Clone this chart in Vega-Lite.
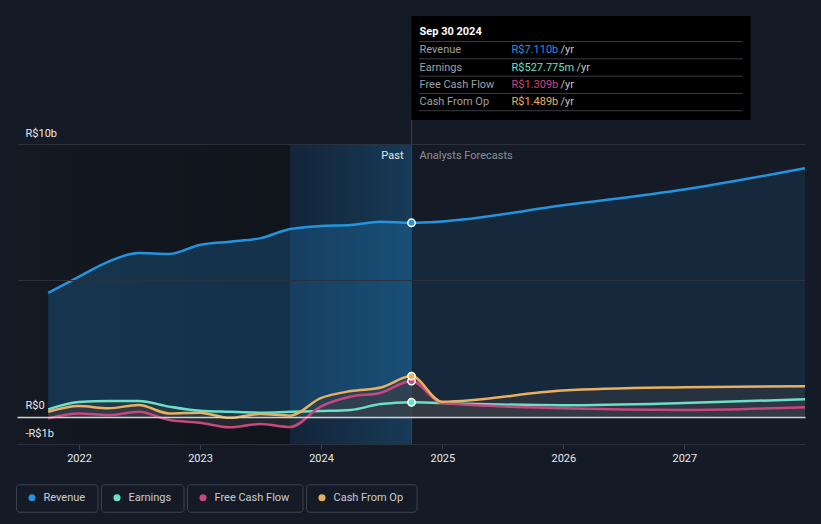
{
  "$schema": "https://vega.github.io/schema/vega-lite/v6.json",
  "width": 788,
  "height": 300,
  "autosize": {"type": "none"},
  "padding": {"left": 17, "top": 144, "right": 16, "bottom": 80},
  "background": "#151b26",
  "config": {
    "view": {"stroke": null},
    "font": "Roboto",
    "text": {"font": "Roboto"},
    "axisX": {"grid": false, "domainColor": "#3a404c", "tickColor": "#3a404c", "tickSize": 5, "labelColor": "#e8e8e8", "labelFontSize": 11, "labelFont": "Roboto", "labelPadding": 3, "labelFlush": false},
    "axisY": {"grid": true, "domain": false, "ticks": false, "labelAlign": "left", "labelPadding": -8, "labelBaseline": "alphabetic", "labelOffset": -8, "labelColor": "#e8e8e8", "labelFontSize": 11, "labelFont": "Roboto", "labelOverlap": false},
    "legend": {
      "orient": "none",
      "legendX": -1,
      "legendY": 340,
      "direction": "horizontal",
      "padding": 0,
      "columnPadding": 2,
      "symbolType": "circle",
      "symbolSize": 50,
      "symbolOffset": 10.5,
      "labelOffset": 6,
      "labelFont": "Roboto",
      "labelFontSize": 11,
      "labelColor": "#c9cdd3",
      "labelLimit": 200
    }
  },
  "datasets": {
    "series": [
      {"date": "2021-09-30", "series": "Revenue", "value": 4.54},
      {"date": "2021-12-31", "series": "Revenue", "value": 5.13},
      {"date": "2022-03-31", "series": "Revenue", "value": 5.69},
      {"date": "2022-06-30", "series": "Revenue", "value": 6.0},
      {"date": "2022-09-30", "series": "Revenue", "value": 5.97},
      {"date": "2022-12-31", "series": "Revenue", "value": 6.3},
      {"date": "2023-03-31", "series": "Revenue", "value": 6.42},
      {"date": "2023-06-30", "series": "Revenue", "value": 6.54},
      {"date": "2023-09-30", "series": "Revenue", "value": 6.88},
      {"date": "2023-12-31", "series": "Revenue", "value": 6.99},
      {"date": "2024-03-31", "series": "Revenue", "value": 7.03},
      {"date": "2024-06-30", "series": "Revenue", "value": 7.15},
      {"date": "2024-09-30", "series": "Revenue", "value": 7.11},
      {"date": "2024-12-31", "series": "Revenue", "value": 7.16},
      {"date": "2025-12-31", "series": "Revenue", "value": 7.75},
      {"date": "2026-12-31", "series": "Revenue", "value": 8.33},
      {"date": "2027-12-31", "series": "Revenue", "value": 9.11},
      {"date": "2021-09-30", "series": "Earnings", "value": 0.27},
      {"date": "2021-12-31", "series": "Earnings", "value": 0.54},
      {"date": "2022-03-31", "series": "Earnings", "value": 0.58},
      {"date": "2022-06-30", "series": "Earnings", "value": 0.58},
      {"date": "2022-09-30", "series": "Earnings", "value": 0.37},
      {"date": "2022-12-31", "series": "Earnings", "value": 0.22},
      {"date": "2023-03-31", "series": "Earnings", "value": 0.18},
      {"date": "2023-06-30", "series": "Earnings", "value": 0.15},
      {"date": "2023-09-30", "series": "Earnings", "value": 0.18},
      {"date": "2023-12-31", "series": "Earnings", "value": 0.21},
      {"date": "2024-03-31", "series": "Earnings", "value": 0.25},
      {"date": "2024-06-30", "series": "Earnings", "value": 0.47},
      {"date": "2024-09-30", "series": "Earnings", "value": 0.528},
      {"date": "2024-12-31", "series": "Earnings", "value": 0.5},
      {"date": "2025-12-31", "series": "Earnings", "value": 0.42},
      {"date": "2026-12-31", "series": "Earnings", "value": 0.5},
      {"date": "2027-12-31", "series": "Earnings", "value": 0.64},
      {"date": "2021-09-30", "series": "Free Cash Flow", "value": -0.06},
      {"date": "2021-12-31", "series": "Free Cash Flow", "value": 0.12},
      {"date": "2022-03-31", "series": "Free Cash Flow", "value": 0.06},
      {"date": "2022-06-30", "series": "Free Cash Flow", "value": 0.18},
      {"date": "2022-09-30", "series": "Free Cash Flow", "value": -0.12},
      {"date": "2022-12-31", "series": "Free Cash Flow", "value": -0.22},
      {"date": "2023-03-31", "series": "Free Cash Flow", "value": -0.39},
      {"date": "2023-06-30", "series": "Free Cash Flow", "value": -0.27},
      {"date": "2023-09-30", "series": "Free Cash Flow", "value": -0.38},
      {"date": "2023-12-31", "series": "Free Cash Flow", "value": 0.37},
      {"date": "2024-03-31", "series": "Free Cash Flow", "value": 0.74},
      {"date": "2024-06-30", "series": "Free Cash Flow", "value": 0.88},
      {"date": "2024-09-30", "series": "Free Cash Flow", "value": 1.309},
      {"date": "2024-12-31", "series": "Free Cash Flow", "value": 0.5},
      {"date": "2025-12-31", "series": "Free Cash Flow", "value": 0.31},
      {"date": "2026-12-31", "series": "Free Cash Flow", "value": 0.25},
      {"date": "2027-12-31", "series": "Free Cash Flow", "value": 0.35},
      {"date": "2021-09-30", "series": "Cash From Op", "value": 0.18},
      {"date": "2021-12-31", "series": "Cash From Op", "value": 0.39},
      {"date": "2022-03-31", "series": "Cash From Op", "value": 0.31},
      {"date": "2022-06-30", "series": "Cash From Op", "value": 0.43},
      {"date": "2022-09-30", "series": "Cash From Op", "value": 0.12},
      {"date": "2022-12-31", "series": "Cash From Op", "value": 0.15},
      {"date": "2023-03-31", "series": "Cash From Op", "value": -0.04},
      {"date": "2023-06-30", "series": "Cash From Op", "value": 0.1},
      {"date": "2023-09-30", "series": "Cash From Op", "value": 0.04},
      {"date": "2023-12-31", "series": "Cash From Op", "value": 0.68},
      {"date": "2024-03-31", "series": "Cash From Op", "value": 0.94},
      {"date": "2024-06-30", "series": "Cash From Op", "value": 1.07},
      {"date": "2024-09-30", "series": "Cash From Op", "value": 1.489},
      {"date": "2024-12-31", "series": "Cash From Op", "value": 0.55},
      {"date": "2025-12-31", "series": "Cash From Op", "value": 0.96},
      {"date": "2026-12-31", "series": "Cash From Op", "value": 1.08},
      {"date": "2027-12-31", "series": "Cash From Op", "value": 1.12}
    ],
    "regions": [
      {"start": "2021-06-28", "end": "2023-09-30", "name": "past"},
      {"start": "2023-09-30", "end": "2024-09-30", "name": "last12m"}
    ],
    "phases": [
      {"date": "2024-09-30", "label": "Past"},
      {"date": "2024-09-30", "label": "Analysts Forecasts"}
    ],
    "tip": [
      {"date": "2024-09-30", "row": "head", "label": "Sep 30 2024", "series": null, "value": "", "unit": ""},
      {"date": "2024-09-30", "row": "Revenue", "label": "Revenue", "series": "Revenue", "value": "R$7.110b", "unit": "/yr"},
      {"date": "2024-09-30", "row": "Earnings", "label": "Earnings", "series": "Earnings", "value": "R$527.775m", "unit": "/yr"},
      {"date": "2024-09-30", "row": "Free Cash Flow", "label": "Free Cash Flow", "series": "Free Cash Flow", "value": "R$1.309b", "unit": "/yr"},
      {"date": "2024-09-30", "row": "Cash From Op", "label": "Cash From Op", "series": "Cash From Op", "value": "R$1.489b", "unit": "/yr"}
    ]
  },
  "layer": [
    {
      "layer": [
        {
          "data": {"name": "regions"},
          "transform": [{"filter": "datum.name == 'past'"}],
          "mark": {"type": "rect", "fill": {"gradient": "linear", "x1": 0, "x2": 1, "y1": 0, "y2": 0, "stops": [{"offset": 0, "color": "#141922"}, {"offset": 1, "color": "#10141b"}]}},
          "encoding": {
            "x": {"field": "start", "type": "temporal", "title": null,
              "scale": {"domain": [{"year": 2021, "month": 6, "date": 28}, {"year": 2027, "month": 12, "date": 31}]},
              "axis": {"format": "%Y", "tickCount": {"interval": "year", "step": 1}}},
            "x2": {"field": "end"}
          }
        },
        {
          "data": {"name": "regions"},
          "transform": [{"filter": "datum.name == 'last12m'"}],
          "mark": {"type": "rect", "fill": {"gradient": "linear", "x1": 0, "x2": 1, "y1": 0, "y2": 0, "stops": [{"offset": 0, "color": "#132539"}, {"offset": 1, "color": "#173a57"}]}},
          "encoding": {
            "x": {"field": "start", "type": "temporal", "title": null},
            "x2": {"field": "end"}
          }
        },
        {
          "data": {"name": "series"},
          "transform": [{"filter": "datum.series == 'Revenue'"}, {"filter": {"field": "date", "lte": {"year": 2024, "month": 10, "date": 1}}}],
          "mark": {"type": "area", "interpolate": "monotone", "color": "#2394df", "opacity": 0.24},
          "encoding": {
            "x": {"field": "date", "type": "temporal", "title": null},
            "y": {"field": "value", "type": "quantitative", "stack": null, "title": null,
              "scale": {"domain": [-1, 10], "nice": false, "zero": false},
              "axis": {"values": [-1, 0, 5, 10], "zindex": 1,
                "gridColor": {"condition": {"test": "datum.value == 0", "value": "#cfd2d6"}, "value": "#2a303c"},
                "gridWidth": {"condition": {"test": "datum.value == 0", "value": 1.5}, "value": 1},
                "labelExpr": "datum.value == 5 ? '' : datum.value == 0 ? 'R$0' : datum.value < 0 ? '-R$' + abs(datum.value) + 'b' : 'R$' + datum.value + 'b'"}}
          }
        },
        {
          "data": {"name": "series"},
          "transform": [{"filter": "datum.series == 'Revenue'"}, {"filter": {"field": "date", "gte": {"year": 2024, "month": 9, "date": 29}}}],
          "mark": {"type": "area", "interpolate": "monotone", "color": "#2394df", "opacity": 0.12},
          "encoding": {
            "x": {"field": "date", "type": "temporal", "title": null},
            "y": {"field": "value", "type": "quantitative", "stack": null, "title": null, "scale": {"domain": [-1, 10], "nice": false, "zero": false}}
          }
        },
        {
          "data": {"name": "series"},
          "transform": [{"filter": "datum.series != 'Revenue'"}],
          "mark": {"type": "area", "interpolate": "monotone", "color": "#3a3e45", "opacity": 0.45},
          "encoding": {
            "x": {"field": "date", "type": "temporal", "title": null},
            "y": {"field": "value", "type": "quantitative", "stack": null, "title": null, "scale": {"domain": [-1, 10], "nice": false, "zero": false}},
            "detail": {"field": "series"}
          }
        },
        {
          "data": {"values": [{"label": "now"}]},
          "mark": {"type": "rule", "color": "#2c4762", "strokeWidth": 1, "clip": false},
          "encoding": {
            "x": {"datum": {"year": 2024, "month": 9, "date": 30}, "type": "temporal", "title": null},
            "y": {"datum": -1, "type": "quantitative", "title": null, "scale": {"domain": [-1, 10], "nice": false, "zero": false}},
            "y2": {"datum": 10.92}
          }
        },
        {
          "data": {"name": "series"},
          "mark": {"type": "line", "interpolate": "monotone", "strokeWidth": 2.5},
          "encoding": {
            "x": {"field": "date", "type": "temporal", "title": null},
            "y": {"field": "value", "type": "quantitative", "title": null, "scale": {"domain": [-1, 10], "nice": false, "zero": false}},
            "color": {"field": "series", "type": "nominal",
              "scale": {"domain": ["Revenue", "Earnings", "Free Cash Flow", "Cash From Op"], "range": ["#2394df", "#6be0c8", "#c9467f", "#e9b05f"]},
              "legend": {"title": null,
                "encode": {
                  "symbols": {"update": {"fill": {"scale": "color", "field": "value"}, "strokeWidth": {"value": 0}, "y": {"value": 13.5}}},
                  "labels": {"update": {"y": {"value": 13.5}, "baseline": {"value": "middle"}}},
                  "entries": {"update": {"width": {"signal": "[81, 82, 115, 110][datum.index]"}, "height": {"value": 27}, "noBound": {"value": false}, "stroke": {"value": "#3c4350"}, "strokeWidth": {"value": 1}, "fill": {"value": "#151b26"}, "cornerRadius": {"value": 3}}}
                }}}
          }
        },
        {
          "data": {"name": "series"},
          "transform": [{"filter": {"field": "date", "gte": {"year": 2024, "month": 9, "date": 29}}}, {"filter": {"field": "date", "lte": {"year": 2024, "month": 10, "date": 1}}}],
          "mark": {"type": "point", "shape": "circle", "filled": true, "size": 55, "stroke": "#ffffff", "strokeWidth": 1.5, "opacity": 1},
          "encoding": {
            "x": {"field": "date", "type": "temporal", "title": null},
            "y": {"field": "value", "type": "quantitative", "title": null, "scale": {"domain": [-1, 10], "nice": false, "zero": false}},
            "color": {"field": "series", "type": "nominal", "legend": null}
          }
        },
        {
          "data": {"name": "phases"},
          "transform": [{"filter": "datum.label == 'Past'"}],
          "mark": {"type": "text", "align": "right", "baseline": "middle", "dx": -8, "dy": 12, "fontSize": 11, "color": "#e6e6e6"},
          "encoding": {
            "x": {"field": "date", "type": "temporal", "title": null},
            "y": {"datum": 10, "type": "quantitative", "title": null, "scale": {"domain": [-1, 10], "nice": false, "zero": false}},
            "text": {"field": "label"}
          }
        },
        {
          "data": {"name": "phases"},
          "transform": [{"filter": "datum.label != 'Past'"}],
          "mark": {"type": "text", "align": "left", "baseline": "middle", "dx": 8, "dy": 12, "fontSize": 11, "color": "#8a9099"},
          "encoding": {
            "x": {"field": "date", "type": "temporal", "title": null},
            "y": {"datum": 10, "type": "quantitative", "title": null, "scale": {"domain": [-1, 10], "nice": false, "zero": false}},
            "text": {"field": "label"}
          }
        }
      ]
    },
    {
      "data": {"values": [{"box": "tooltip"}]},
      "mark": {"type": "rect", "color": "#000000", "clip": false},
      "encoding": {
        "x": {"datum": {"year": 2024, "month": 9, "date": 30}, "type": "temporal", "title": null},
        "x2": {"datum": {"year": 2027, "month": 7, "date": 20}},
        "y": {"field": "box", "type": "nominal", "axis": null, "scale": {"type": "band", "range": [-128, -24], "paddingInner": 0, "paddingOuter": 0}}
      }
    },
    {
      "data": {"name": "tip"},
      "layer": [
        {
          "mark": {"type": "rule", "color": "#3a3d42", "strokeWidth": 1, "clip": false},
          "encoding": {
            "x": {"datum": {"year": 2024, "month": 10, "date": 23}, "type": "temporal", "title": null},
            "x2": {"datum": {"year": 2027, "month": 6, "date": 26}},
            "y": {"field": "row", "type": "nominal", "bandPosition": 1, "axis": null,
              "scale": {"type": "band", "domain": ["head", "Revenue", "Earnings", "Free Cash Flow", "Cash From Op"], "range": [-128, -25], "paddingInner": 0, "paddingOuter": 0.48}}
          }
        },
        {
          "transform": [{"filter": "datum.row == 'head'"}],
          "mark": {"type": "text", "align": "left", "baseline": "middle", "dx": 8, "dy": -1, "fontSize": 11, "fontWeight": "bold", "color": "#ffffff", "clip": false},
          "encoding": {
            "x": {"field": "date", "type": "temporal", "title": null},
            "y": {"field": "row", "type": "nominal", "axis": null},
            "text": {"field": "label"}
          }
        },
        {
          "transform": [{"filter": "datum.row != 'head'"}],
          "mark": {"type": "text", "align": "left", "baseline": "middle", "dx": 8, "fontSize": 11, "color": "#9da1a8", "clip": false},
          "encoding": {
            "x": {"field": "date", "type": "temporal", "title": null},
            "y": {"field": "row", "type": "nominal", "axis": null},
            "text": {"field": "label"}
          }
        },
        {
          "transform": [{"filter": "datum.row != 'head'"}],
          "mark": {"type": "text", "align": "left", "baseline": "middle", "dx": 100, "fontSize": 11, "clip": false},
          "encoding": {
            "x": {"field": "date", "type": "temporal", "title": null},
            "y": {"field": "row", "type": "nominal", "axis": null},
            "text": {"field": "value"},
            "color": {"field": "series", "type": "nominal", "legend": null}
          }
        },
        {
          "transform": [{"filter": "datum.row != 'head' && datum.row != 'Earnings'"}],
          "mark": {"type": "text", "align": "left", "baseline": "middle", "dx": 149, "fontSize": 11, "color": "#c4c7cc", "clip": false},
          "encoding": {
            "x": {"field": "date", "type": "temporal", "title": null},
            "y": {"field": "row", "type": "nominal", "axis": null},
            "text": {"field": "unit"}
          }
        },
        {
          "transform": [{"filter": "datum.row == 'Earnings'"}],
          "mark": {"type": "text", "align": "left", "baseline": "middle", "dx": 165, "fontSize": 11, "color": "#c4c7cc", "clip": false},
          "encoding": {
            "x": {"field": "date", "type": "temporal", "title": null},
            "y": {"field": "row", "type": "nominal", "axis": null},
            "text": {"field": "unit"}
          }
        }
      ]
    }
  ],
  "resolve": {"scale": {"y": "independent"}}
}
